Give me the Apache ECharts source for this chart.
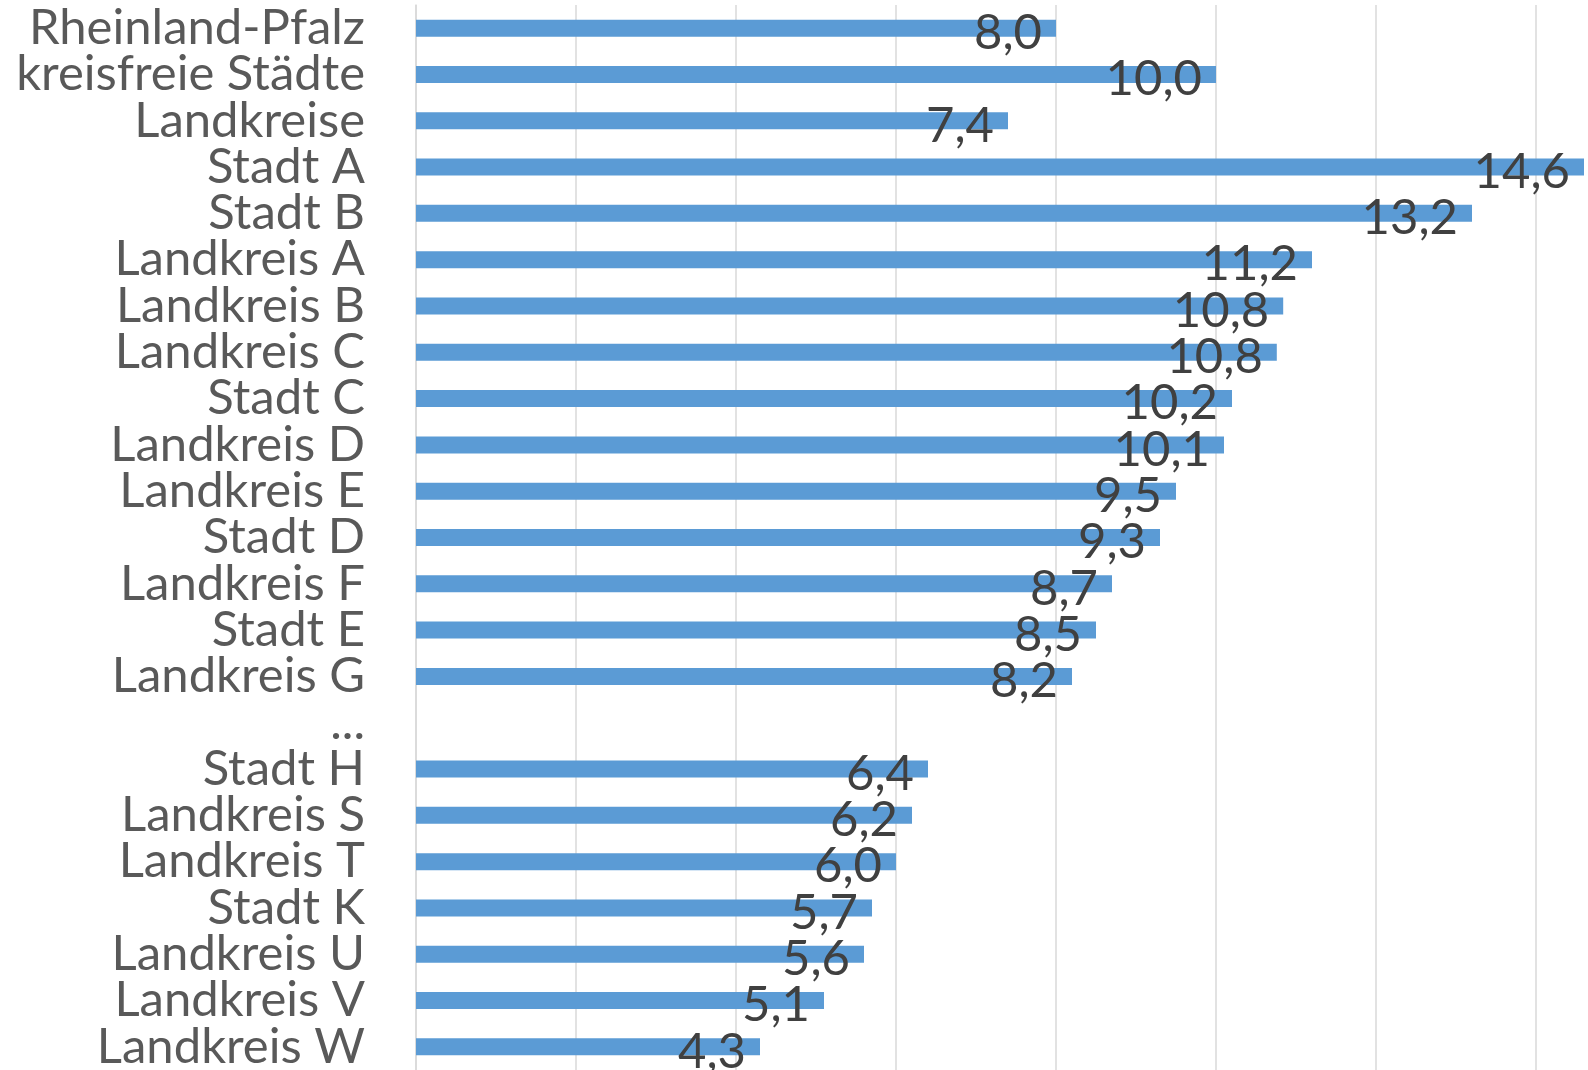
<!DOCTYPE html>
<html>
<head>
<meta charset="utf-8">
<script src="https://cdn.jsdelivr.net/npm/echarts@6/dist/echarts.min.js"></script>
<style>
  html, body { margin: 0; padding: 0; background: #fff; }
  #chart { width: 1588px; height: 1070px; }
</style>
</head>
<body>
<div id="chart"></div>
<script>
var chart = echarts.init(document.getElementById('chart'));

// Kategorien (von oben nach unten)
var regions = ['Rheinland-Pfalz', 'kreisfreie Städte', 'Landkreise', 'Stadt A', 'Stadt B',
  'Landkreis A', 'Landkreis B', 'Landkreis C', 'Stadt C', 'Landkreis D', 'Landkreis E',
  'Stadt D', 'Landkreis F', 'Stadt E', 'Landkreis G', '...', 'Stadt H', 'Landkreis S',
  'Landkreis T', 'Stadt K', 'Landkreis U', 'Landkreis V', 'Landkreis W'];
// Werte, '-' = Lücke
var values = [8.0, 10.0, 7.4, 14.6, 13.2, 11.2, 10.84, 10.76, 10.2, 10.1, 9.5,
  9.3, 8.7, 8.5, 8.2, '-', 6.4, 6.2, 6.0, 5.7, 5.6, 5.1, 4.3];
var ticks = [0, 2, 4, 6, 8, 10, 12, 14, 16];

var option = {
  backgroundColor: '#ffffff',
  animation: false,
  grid: {
    left: 416,
    width: 1280,   // Achse läuft über den rechten Bildrand hinaus
    top: 5,
    bottom: 0,
    outerBoundsMode: 'none'
  },
  xAxis: {
    type: 'value',
    min: ticks[0],
    max: ticks[ticks.length - 1],
    interval: 2,
    axisLabel: { show: false },
    axisLine: { show: false },
    axisTick: { show: false },
    splitLine: { lineStyle: { color: '#d9d9d9', width: 1.5 } }
  },
  yAxis: {
    type: 'category',
    inverse: true,
    data: regions,
    axisTick: { show: false },
    axisLine: { lineStyle: { color: '#d9d9d9', width: 1.5 } },
    axisLabel: {
      margin: 51,
      color: '#595959',
      fontFamily: 'Lato',
      fontSize: 49,
      interval: 0
    }
  },
  series: [{
    type: 'bar',
    data: values,
    barWidth: 17,
    itemStyle: { color: '#5b9bd5' },
    label: {
      show: true,
      position: 'insideRight',
      distance: 14,
      offset: [0, 5],
      color: '#404040',
      fontFamily: 'Lato',
      fontSize: 49,
      formatter: function (p) {
        return Number(p.value).toFixed(1).replace('.', ',');
      }
    }
  }]
};
chart.setOption(option);
</script>
</body>
</html>
